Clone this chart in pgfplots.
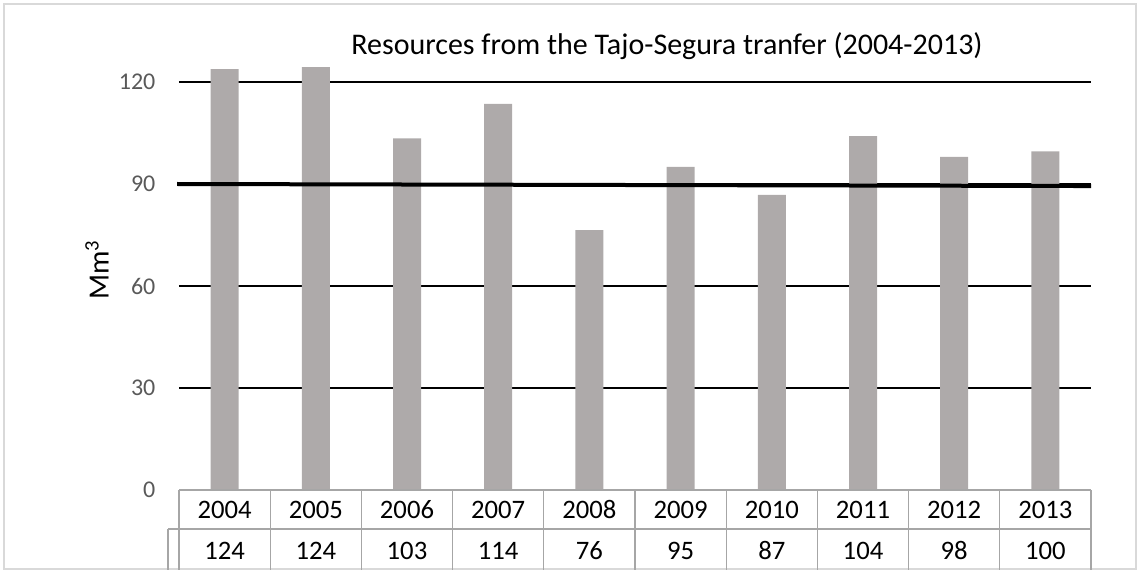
\documentclass[border=0pt]{standalone}
\usepackage{pgfplots}
\pgfplotsset{compat=1.18}
\usepackage{pgfplotstable}
\usepackage{fontspec}
\setmainfont{Carlito}
\definecolor{barc}{HTML}{AEAAAA}
\definecolor{tablec}{HTML}{A6A6A6}
\definecolor{framec}{HTML}{D9D9D9}
\definecolor{tickc}{HTML}{595959}
\pgfplotstableread{
x v
0 123.8
1 124.4
2 103.4
3 113.6
4 76.4
5 95.0
6 86.8
7 104.1
8 98.0
9 99.6
}\data
\begin{document}
\begin{tikzpicture}[x=0.75pt,y=0.75pt]
\useasboundingbox (0,0) rectangle (1140,572);
\draw[framec, line width=1.5pt] (4,3) rectangle (1136,568);
\begin{axis}[
  at={(134.25pt,61.5pt)}, anchor=south west,
  scale only axis, width=684pt, height=331.5pt,
  xmin=-0.5, xmax=9.5, ymin=0, ymax=130,
  clip=false,
  axis line style={draw=none},
  major tick length=0pt,
  /pgf/number format/assume math mode=true,
  ytick={30,60,90,120},
  extra y ticks={0}, extra y tick style={grid=none},
  ymajorgrids, grid style={black, line width=1pt},
  yticklabel style={anchor=east, inner sep=0pt, xshift=-17.5pt, text=tickc, font=\fontsize{18}{21}\selectfont},
  xtick={0,...,9},
  xticklabels={2004,2005,2006,2007,2008,2009,2010,2011,2012,2013},
  xticklabel style={anchor=base, inner sep=0pt, yshift=-21pt, font=\fontsize{20}{24}\selectfont},
  every axis title shift=0pt,
  title={Resources from the Tajo-Segura tranfer (2004-2013)},
  title style={at={(axis description cs:0.535,0.986)}, anchor=base, inner sep=0pt, font=\fontsize{22.5}{27}\selectfont},
  ylabel={Mm\textsuperscript{3}},
  ylabel style={at={(axis description cs:-0.09,0.498)}, anchor=center, inner sep=0pt, font=\fontsize{22}{26}\selectfont},
]
\addplot[ybar, bar width=21pt, fill=barc, draw=none] table[x=x, y=v]{\data};
\addplot[black, line width=3pt] coordinates {(-0.52,90) (9.5,89.4)};
\addplot[draw=none, mark=none, nodes near coords, point meta=\thisrow{v},
  nodes near coords style={anchor=base, inner sep=0pt, font=\fontsize{20}{24}\selectfont,
  /pgf/number format/.cd, fixed, precision=0}]
  table[x=x, y expr=-20.3]{\data};
\end{axis}
\draw[tablec, line width=1pt] (179,82) -- (1091,82);
\draw[tablec, line width=1pt] (168,43) -- (1091,43);
\draw[tablec, line width=1pt] (168,43) -- (168,2);
\foreach \k in {0,...,10} {
  \draw[tablec, line width=1pt] ({179+91.2*\k},82) -- ({179+91.2*\k},2);
}
\end{tikzpicture}
\end{document}
